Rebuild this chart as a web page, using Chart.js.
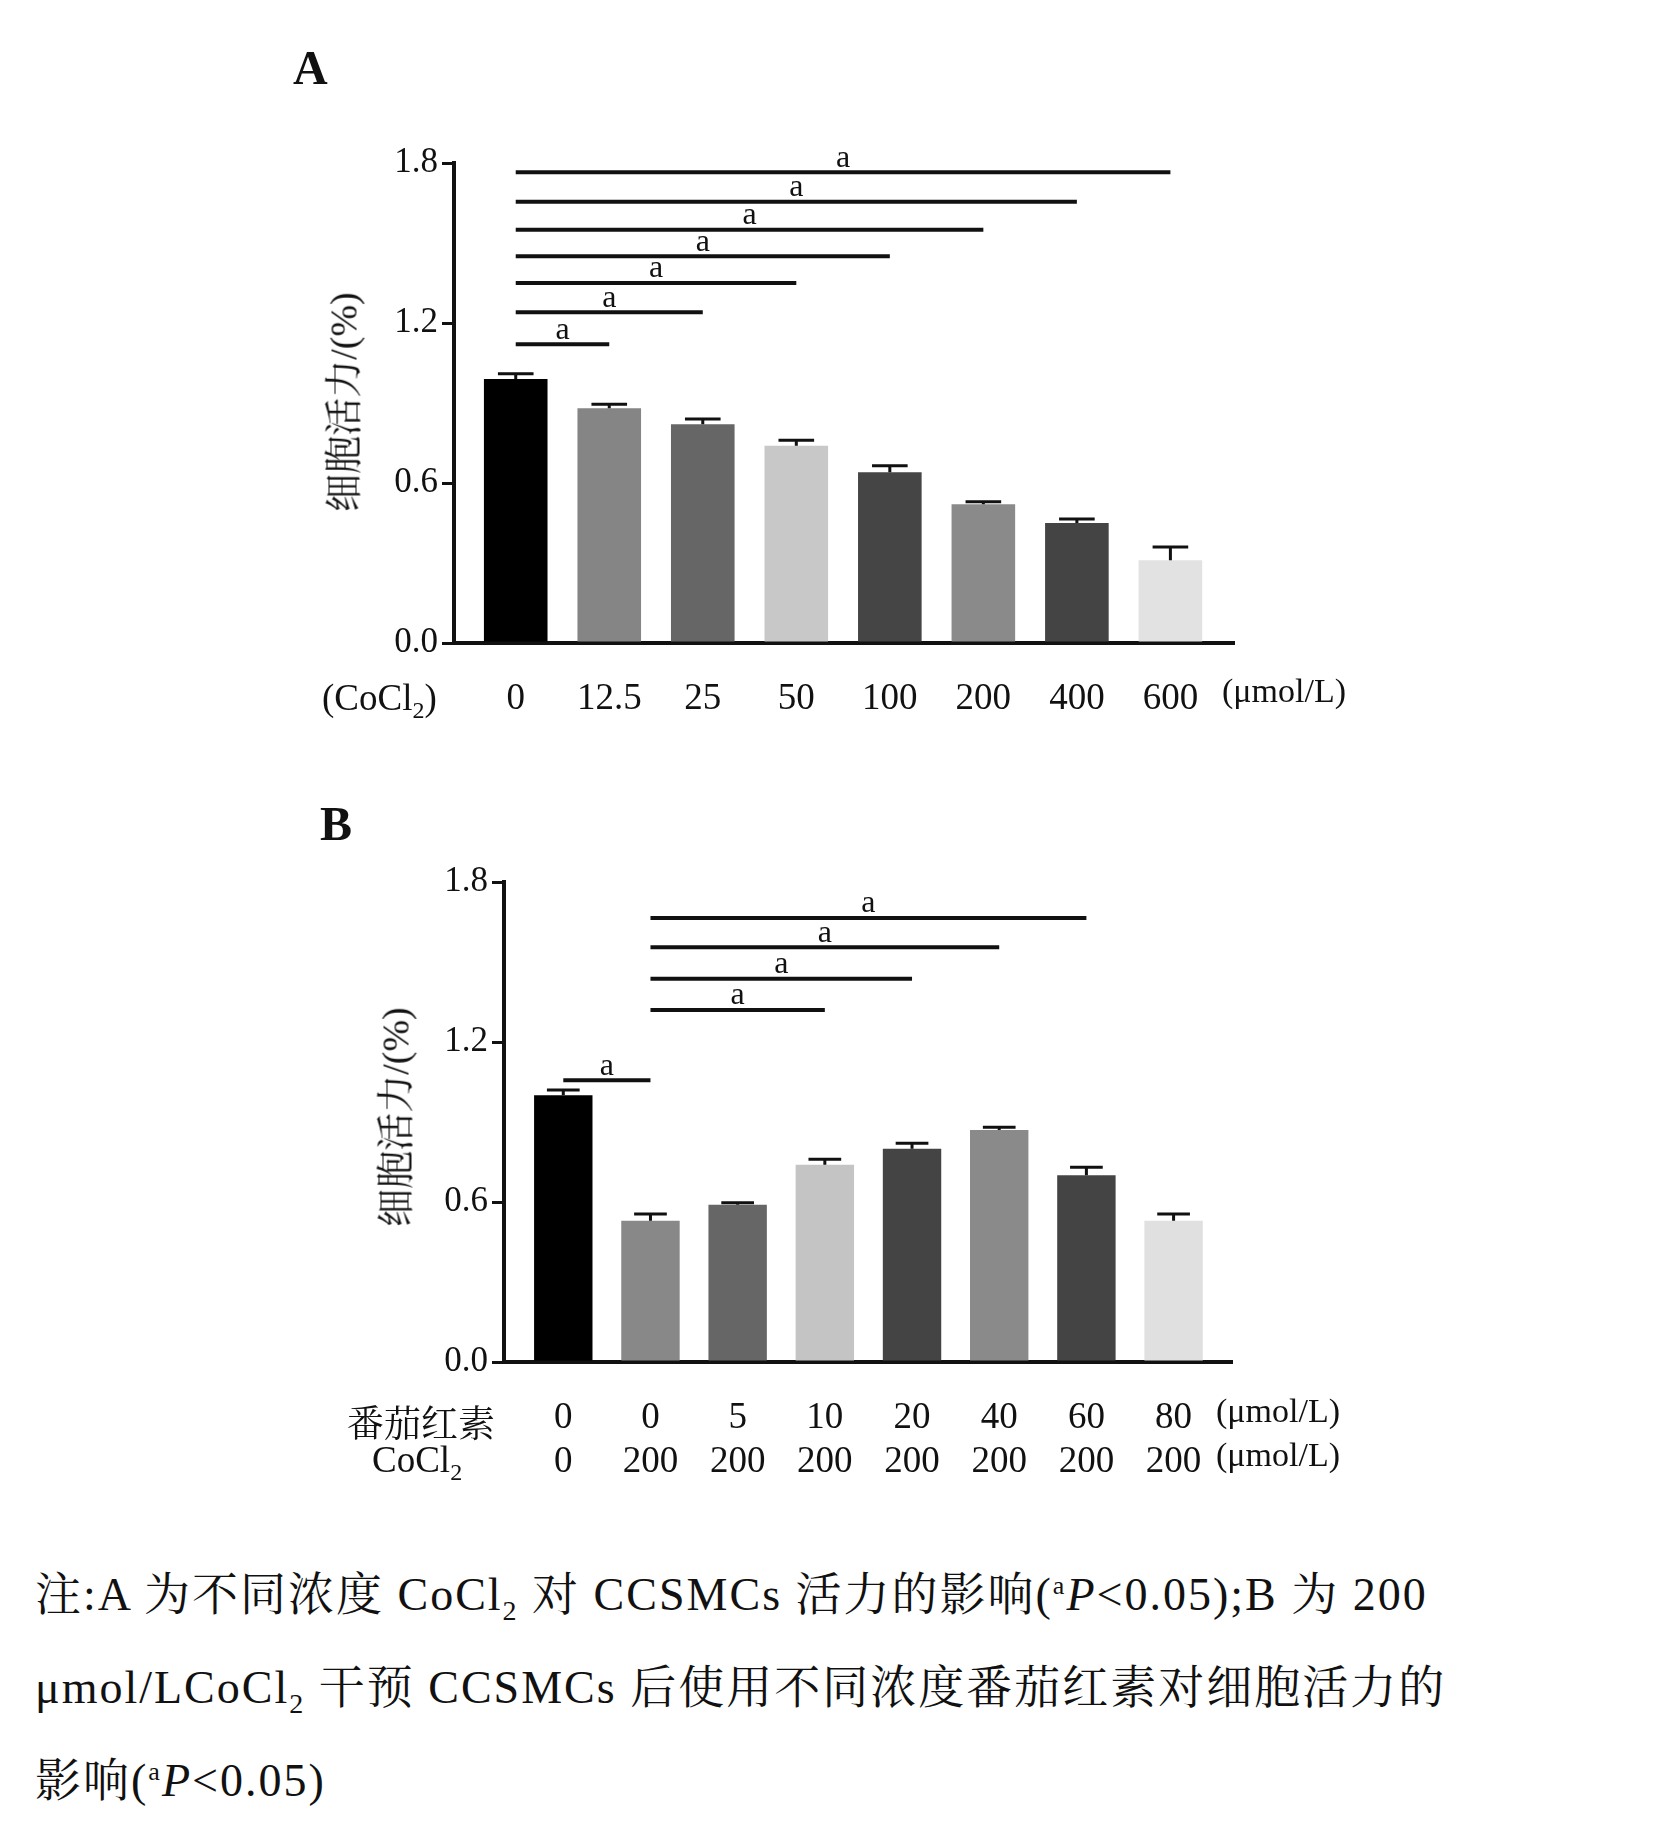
<!DOCTYPE html>
<html><head><meta charset="utf-8">
<script src="https://cdn.jsdelivr.net/npm/chart.js@4/dist/chart.umd.min.js"></script>
<style>
body{margin:0;background:#fff;font-family:"Liberation Serif","Noto Serif CJK SC","Noto Sans CJK SC",serif;}
#wrap{position:relative;width:1676px;height:1821px;overflow:hidden;}
.abs{position:absolute;white-space:nowrap;color:#111;}
canvas{position:absolute;left:0;}
sub,sup{line-height:0;}
</style></head><body>
<div id="wrap">
<canvas id="ca" style="top:0"></canvas>
<canvas id="cb" style="top:0"></canvas>
<div class="abs" style="left:293px;top:40px;font-size:48px;font-weight:bold">A</div>
<div class="abs" style="left:320px;top:796px;font-size:48px;font-weight:bold">B</div>
<div class="abs" style="left:340px;top:402px;font-size:38px;transform:translate(-50%,-50%) rotate(-90deg)">细胞活力/(%)</div>
<div class="abs" style="left:392px;top:1117px;font-size:38px;transform:translate(-50%,-50%) rotate(-90deg)">细胞活力/(%)</div>
<div class="abs" style="left:322px;top:676px;font-size:37px">(CoCl<sub style="font-size:24px">2</sub>)</div>
<div class="abs" style="left:1222px;top:672px;font-size:34px">(μmol/L)</div>
<div class="abs" style="left:347px;top:1394px;font-size:37px">番茄红素</div>
<div class="abs" style="left:372px;top:1438px;font-size:37px">CoCl<sub style="font-size:24px">2</sub></div>
<div class="abs" style="left:1216px;top:1392px;font-size:34px">(μmol/L)</div>
<div class="abs" style="left:1216px;top:1436px;font-size:34px">(μmol/L)</div>
<div class="abs" style="left:35px;top:1548px;font-size:46px;line-height:93px;letter-spacing:2px">注:A 为不同浓度 CoCl<sub style="font-size:28px">2</sub> 对 CCSMCs 活力的影响(<sup style="font-size:26px">a</sup><i>P</i>&lt;0.05);B 为 200<br>μmol/LCoCl<sub style="font-size:28px">2</sub> 干预 CCSMCs 后使用不同浓度番茄红素对细胞活力的<br>影响(<sup style="font-size:26px">a</sup><i>P</i>&lt;0.05)</div>
</div>
<script>
// panel A
const catsA = ['0', '12.5', '25', '50', '100', '200', '400', '600'];
const valsA = [0.99, 0.88, 0.82, 0.74, 0.64, 0.52, 0.45, 0.31];
const errA = [0.02, 0.015, 0.02, 0.02, 0.025, 0.01, 0.015, 0.05];
const colorsA = ['#000000', '#858585', '#666666', '#c8c8c8', '#454545', '#8a8a8a', '#444444', '#e2e2e2'];
// significance brackets: [from index, to index, height]
const sigA = [[0, 1, 1.12], [0, 2, 1.24], [0, 3, 1.35], [0, 4, 1.45], [0, 5, 1.55], [0, 6, 1.655], [0, 7, 1.765]];

// panel B
const catsB = [['0', '0'], ['0', '200'], ['5', '200'], ['10', '200'], ['20', '200'], ['40', '200'], ['60', '200'], ['80', '200']];
const valsB = [1.0, 0.53, 0.59, 0.74, 0.80, 0.87, 0.70, 0.53];
const errB = [0.02, 0.025, 0.007, 0.02, 0.02, 0.01, 0.03, 0.025];
const colorsB = ['#000000', '#888888', '#666666', '#c4c4c4', '#444444', '#8a8a8a', '#444444', '#e0e0e0'];
const sigB = [[0, 1, 1.057], [1, 3, 1.32], [1, 4, 1.437], [1, 5, 1.555], [1, 6, 1.665]];

const yTicks = [0, 0.6, 1.2, 1.8];

const extras = {
    id: 'extras',
    afterDatasetsDraw(chart, args, opts) {
        const {ctx, scales: {x, y}} = chart;
        const meta = chart.getDatasetMeta(0);
        ctx.save();
        ctx.strokeStyle = '#111';
        ctx.lineWidth = 3;
        meta.data.forEach((bar, i) => {
            const v = opts.vals[i], e = opts.err[i];
            const half = bar.width * 0.28;
            ctx.beginPath();
            ctx.moveTo(bar.x, y.getPixelForValue(v));
            ctx.lineTo(bar.x, y.getPixelForValue(v + e));
            ctx.moveTo(bar.x - half, y.getPixelForValue(v + e));
            ctx.lineTo(bar.x + half, y.getPixelForValue(v + e));
            ctx.stroke();
        });
        ctx.lineWidth = 4;
        ctx.fillStyle = '#111';
        ctx.font = '32px "Liberation Serif", serif';
        ctx.textAlign = 'center';
        ctx.textBaseline = 'bottom';
        opts.sig.forEach(([a, b, h]) => {
            const x1 = x.getPixelForValue(a), x2 = x.getPixelForValue(b);
            const py = y.getPixelForValue(h);
            ctx.beginPath();
            ctx.moveTo(x1, py);
            ctx.lineTo(x2, py);
            ctx.stroke();
            ctx.fillText('a', (x1 + x2) / 2, py + 2);
        });
        ctx.restore();
    }
};

function makeChart(id, h, cats, vals, err, colors, sig, pad, yw, xh, barPct, xmin, xmax) {
    const cv = document.getElementById(id);
    cv.width = 1676; cv.height = h;
    cv.style.width = '1676px'; cv.style.height = h + 'px';
    return new Chart(cv, {
        type: 'bar',
        data: {datasets: [{data: vals.map((v, i) => ({x: i, y: v})), backgroundColor: colors, barPercentage: barPct, categoryPercentage: 1}]},
        plugins: [extras],
        options: {
            responsive: false,
            animation: false,
            layout: {padding: pad},
            plugins: {legend: {display: false}, tooltip: {enabled: false}, extras: {vals, err, sig}},
            scales: {
                x: {
                    type: 'linear', min: xmin, max: xmax, offset: false,
                    afterBuildTicks: s => { s.ticks = cats.map((c, i) => ({value: i})); },
                    grid: {display: false},
                    border: {color: '#111', width: 4},
                    ticks: {color: '#111', font: {family: 'Liberation Serif', size: 37}, padding: 26, maxRotation: 0, autoSkip: false,
                        callback: v => cats[v]},
                    afterFit: s => { s.height = xh; }
                },
                y: {
                    min: 0, max: 1.8,
                    afterBuildTicks: s => { s.ticks = yTicks.map(v => ({value: v})); },
                    grid: {drawOnChartArea: false, drawTicks: true, tickLength: 12, color: '#111', lineWidth: 3},
                    border: {color: '#111', width: 4},
                    ticks: {color: '#111', font: {family: 'Liberation Serif', size: 35}, padding: 4, callback: v => v.toFixed(1)},
                    afterFit: s => { s.width = yw; }
                }
            }
        }
    });
}

makeChart('ca', 723, catsA, valsA, errA, colorsA, sigA, {top: 163, right: 442, left: 0, bottom: 0}, 454, 80, 0.68, -0.66, 7.68);
makeChart('cb', 1472, catsB, valsB, errB, colorsB, sigB, {top: 882, right: 444, left: 0, bottom: 0}, 504, 110, 0.67, -0.68, 7.67);
</script>
</body></html>
